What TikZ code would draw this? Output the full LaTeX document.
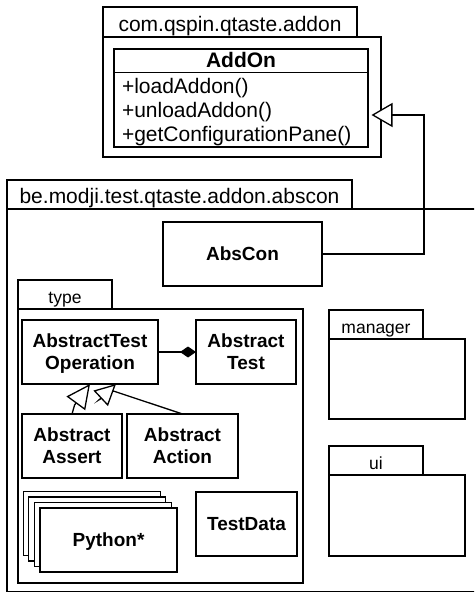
\documentclass[tikz,border=0pt]{standalone}
\usepackage{fontspec}
\setmainfont{Liberation Sans}
\usetikzlibrary{arrows.meta,calc}
\newcommand\mytx[2]{\rule{0pt}{#1}\smash{#2}}
\newcommand\clsl[1]{\mytx{13.6pt}{#1}}
\begin{document}
\begin{tikzpicture}[x=1pt,y=-1pt, line width=1.3pt,
 box/.style={draw, fill=white, inner sep=0pt, outer sep=0pt, align=center},
 cls/.style={box, font=\fontsize{19}{21.7}\selectfont\bfseries},
 bigtab/.style={box, font=\fontsize{21}{24}\selectfont},
 smalltab/.style={box, font=\fontsize{17.5}{20}\selectfont},
 member/.style={inner sep=0pt, outer sep=0pt, anchor=base west, font=\fontsize{21}{24}\selectfont},
 gen/.style={-{Triangle[fill=white,length=21pt,width=24pt]}},
 genleft/.style={-{Triangle[fill=white,length=24pt,width=23pt]}},
 genright/.style={-{Triangle[fill=white,length=21pt,width=21pt]}},
 comp/.style={-{Diamond[length=16pt,width=11pt]}}]
\useasboundingbox (0,0) rectangle (474,593);
\clip (0,0) rectangle (474,593);

% package com.qspin.qtaste.addon
\node[bigtab, minimum width=254pt, minimum height=30pt] (p1tab) at (230,22) {\mytx{19pt}{com.qspin.qtaste.addon}};
\node[box, minimum width=278pt, minimum height=120pt] (p1body) at (242,97) {};
\node[box, minimum width=254pt, minimum height=98pt] (addon) at (241,98) {};
\draw (addon.west |- 0,72.5) -- (addon.east |- 0,72.5);
\node[inner sep=0pt, anchor=base, font=\fontsize{21}{24}\selectfont\bfseries] (addonname) at (241,68) {AddOn};
\node[member] (m1) at (122,93.5) {+loadAddon()};
\node[member] (m2) at (122,117.5) {+unloadAddon()};
\node[member] (m3) at (122,141.5) {+getConfigurationPane()};

% package be.modji.test.qtaste.addon.abscon
\node[bigtab, minimum width=345pt, minimum height=29pt] (p2tab) at (179.5,194.5) {\mytx{19pt}{be.modji.test.qtaste.addon.abscon}};
\node[box, minimum width=483pt, minimum height=382.5pt] (p2body) at (248.5,400.25) {};
\node[cls, minimum width=159pt, minimum height=64pt] (abscon) at (242.5,254) {\clsl{AbsCon}};

% package type
\node[smalltab, minimum width=94pt, minimum height=29pt] (typetab) at (65,294.5) {\mytx{17pt}{type}};
\node[box, minimum width=285pt, minimum height=274pt] (typebody) at (160.5,446) {};
\node[cls, minimum width=136pt, minimum height=64pt] (op) at (90,352) {\clsl{AbstractTest}\\\clsl{Operation}};
\node[cls, minimum width=100pt, minimum height=64pt] (test) at (246,352) {\clsl{Abstract}\\\clsl{Test}};
\node[cls, minimum width=100pt, minimum height=64pt] (assert) at (72,446) {\clsl{Abstract}\\\clsl{Assert}};
\node[cls, minimum width=111pt, minimum height=64pt] (action) at (182.5,446) {\clsl{Abstract}\\\clsl{Action}};
\node[box, minimum width=137pt, minimum height=64pt] (py3) at (91.7,523.5) {};
\node[box, minimum width=137pt, minimum height=64pt] (py2) at (97.3,529) {};
\node[box, minimum width=137pt, minimum height=64pt] (py1) at (102.9,534.5) {};
\node[cls, minimum width=137pt, minimum height=64pt] (python) at (108.5,540) {\clsl{Python*}};
\node[cls, minimum width=101pt, minimum height=64pt] (testdata) at (246.5,524) {\clsl{TestData}};

% package manager
\node[smalltab, minimum width=94pt, minimum height=29pt] (mgrtab) at (376,324.5) {\mytx{17pt}{manager}};
\node[box, minimum width=136pt, minimum height=80pt] (mgrbody) at (397,379) {};
% package ui
\node[smalltab, minimum width=94pt, minimum height=29pt] (uitab) at (376,460.5) {\mytx{17pt}{ui}};
\node[box, minimum width=136pt, minimum height=81pt] (uibody) at (397,515.5) {};

% connectors
\coordinate (bend) at (424,115);
\draw[gen, shorten >=3.5pt] (abscon.east) -| (bend) -- (bend -| addon.east);
\draw[comp] (op.east) -- (test.west);
\coordinate (b1) at (74.6,405);
\draw[genleft] (assert.north) -- (b1) -- (op.south);
\coordinate (t2) at ($(op.south)+(26,0)$);
\coordinate (e2) at (113.4,391);
\coordinate (b2) at (99.2,399.7);
\draw[genright] (action.north) -- (e2) -- (b2) -- (t2);
\end{tikzpicture}
\end{document}
